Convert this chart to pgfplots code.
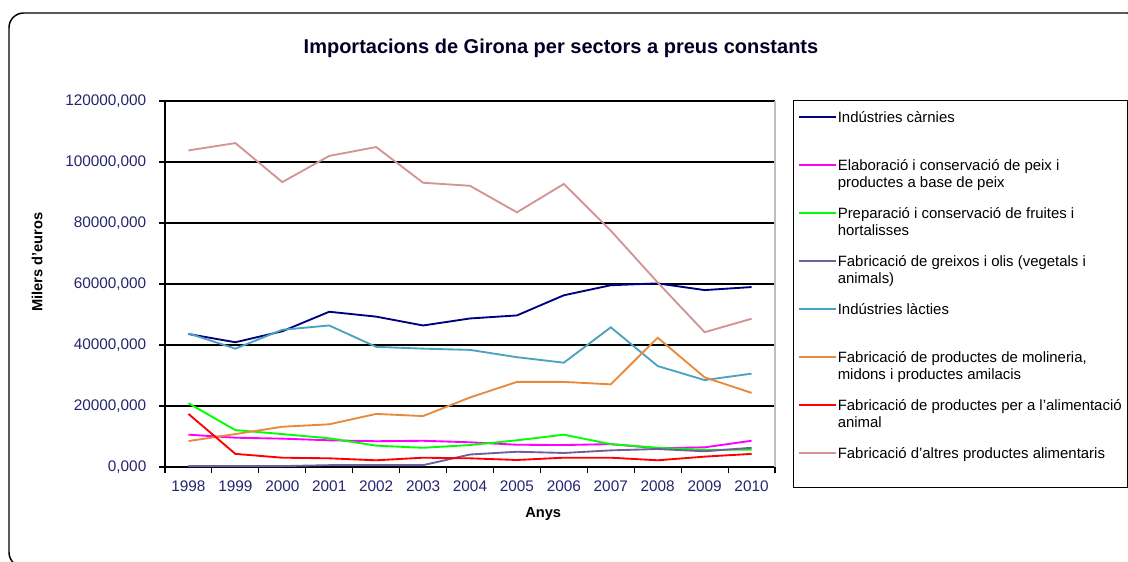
\documentclass[border=0pt]{standalone}
\usepackage{pgfplots}
\pgfplotsset{compat=1.18}
\usepackage{fontspec}
\setmainfont{Liberation Sans}
\definecolor{cNavy}{HTML}{000080}
\definecolor{cMag}{HTML}{FF00FF}
\definecolor{cGreen}{HTML}{00FF00}
\definecolor{cPurple}{HTML}{6F5F9A}
\definecolor{cCyan}{HTML}{4BA3BF}
\definecolor{cOrange}{HTML}{E88A3A}
\definecolor{cRed}{HTML}{FF0000}
\definecolor{cRosy}{HTML}{D49494}
\definecolor{tickblue}{HTML}{24246E}
\newcommand{\LE}[2][27pt]{\raisebox{0pt}[9pt][#1]{\parbox[t]{214pt}{\raggedright #2}}}
\begin{document}
\begin{tikzpicture}
\useasboundingbox (0pt,0pt) rectangle (846pt,420.75pt);
\draw[line width=1.1pt, rounded corners=11pt] (6.75pt,411pt) rectangle (856.5pt,-4.5pt);
\node[font=\bfseries\fontsize{15}{18}\selectfont, text=black!85!blue] at (420.75pt,384.75pt) {Importacions de Girona per sectors a preus constants};
\begin{axis}[
  at={(123.75pt,70.5pt)}, anchor=south west,
  scale only axis, width=457.5pt, height=274.5pt,
  xmin=-0.5, xmax=12.5, ymin=0, ymax=120000,
  clip=false,
  axis lines=left, axis line style={-, black, line width=1pt},
  tick align=outside,
  xtick={-0.5,0.5,...,12.5},
  x tick label as interval,
  xticklabels={1998,1999,2000,2001,2002,2003,2004,2005,2006,2007,2008,2009,2010},
  major tick length=4.5pt,
  tick style={black, line width=0.8pt},
  ytick={0,20000,...,120000},
  ymajorgrids, major grid style={black, line width=1.2pt},
  scaled y ticks=false,
  /pgf/number format/assume math mode=true,
  tick label style={font=\fontsize{11.5}{13}\selectfont, text=tickblue},
  yticklabel style={xshift=-6pt, /pgf/number format/.cd, fixed, fixed zerofill, precision=3, use comma, 1000 sep={}},
  xticklabel style={yshift=-2pt},
  xlabel={Anys}, ylabel={Milers d'euros},
  every axis x label/.style={at={(axis description cs:0.62,-0.1284)}, anchor=center, font=\bfseries\fontsize{11}{13}\selectfont},
  every axis y label/.style={at={(axis description cs:-0.2098,0.56)}, rotate=90, anchor=center, font=\bfseries\fontsize{11}{13}\selectfont},
  legend style={at={(axis description cs:1.0295,1.0027)}, anchor=north west,
    draw=black, line width=1pt, inner xsep=3.2pt, inner ysep=7.35pt,
    font=\fontsize{11.2}{12.75}\selectfont,
    nodes={inner sep=0pt, anchor=base west, text height=, text depth=}, row sep=0pt, /tikz/column sep=0.5pt},
  legend cell align=left,
  legend image code/.code={\draw[#1, line width=1.4pt] (-1pt,3.8pt) -- (27pt,3.8pt);},
  every axis plot/.append style={line width=1.4pt, mark=none},
]
\addplot[black!25, line width=0.8pt, forget plot] coordinates {(12.5,0)(12.5,120000)};
\addplot[cNavy] coordinates {(0,43600)(1,40900)(2,44500)(3,50900)(4,49300)(5,46400)(6,48700)(7,49700)(8,56300)(9,59600)(10,60200)(11,58000)(12,59000)};
\addlegendentry{\LE{Indústries càrnies}}
\addplot[cMag] coordinates {(0,10600)(1,9600)(2,9300)(3,8750)(4,8450)(5,8600)(6,8100)(7,7300)(8,7200)(9,7500)(10,6150)(11,6450)(12,8600)};
\addlegendentry{\LE{Elaboració i conservació de peix i\\productes a base de peix}}
\addplot[cGreen] coordinates {(0,20900)(1,12100)(2,10800)(3,9400)(4,7000)(5,6300)(6,7200)(7,8750)(8,10600)(9,7500)(10,6300)(11,5600)(12,5700)};
\addlegendentry{\LE{Preparació i conservació de fruites i\\hortalisses}}
\addplot[cPurple] coordinates {(0,300)(1,300)(2,300)(3,600)(4,600)(5,600)(6,4100)(7,5000)(8,4600)(9,5450)(10,5900)(11,5150)(12,6300)};
\addlegendentry{\LE{Fabricació de greixos i olis (vegetals i\\animals)}}
\addplot[cCyan] coordinates {(0,43800)(1,38800)(2,45000)(3,46400)(4,39400)(5,38800)(6,38400)(7,36000)(8,34200)(9,45800)(10,33100)(11,28500)(12,30600)};
\addlegendentry{\LE{Indústries làcties}}
\addplot[cOrange] coordinates {(0,8500)(1,10800)(2,13200)(3,14000)(4,17400)(5,16700)(6,22800)(7,27900)(8,27900)(9,27100)(10,42400)(11,29400)(12,24300)};
\addlegendentry{\LE{Fabricació de productes de molineria,\\midons i productes amilacis}}
\addplot[cRed] coordinates {(0,17400)(1,4300)(2,3050)(3,2850)(4,2200)(5,3050)(6,2850)(7,2300)(8,3050)(9,3050)(10,2200)(11,3400)(12,4300)};
\addlegendentry{\LE{Fabricació de productes per a l'alimentació\\animal}}
\addplot[cRosy] coordinates {(0,103800)(1,106200)(2,93400)(3,102000)(4,104900)(5,93200)(6,92200)(7,83500)(8,92800)(9,77500)(10,60500)(11,44200)(12,48600)};
\addlegendentry{\LE[14.5pt]{Fabricació d'altres productes alimentaris}}
\end{axis}
\end{tikzpicture}
\end{document}
